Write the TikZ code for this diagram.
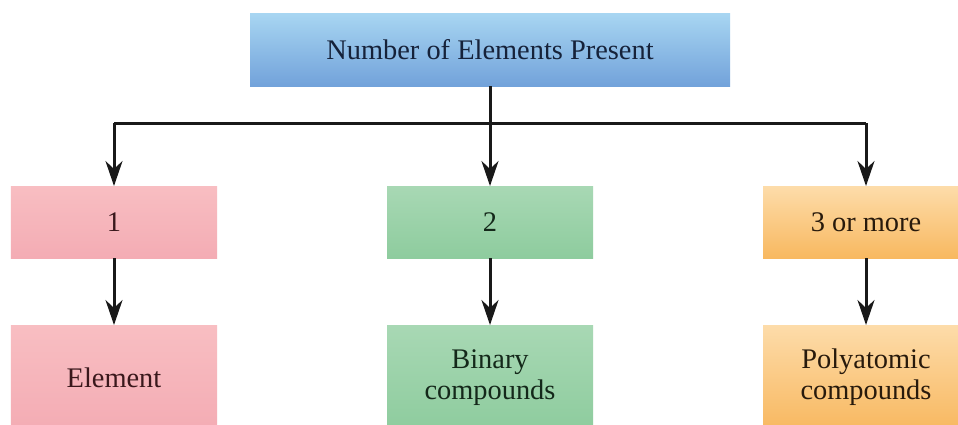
\documentclass[tikz,border=0pt]{standalone}
\usepackage{fontspec}
\setmainfont{Liberation Serif}
\usetikzlibrary{arrows.meta}

\definecolor{blueTop}{RGB}{168,214,242}
\definecolor{blueBot}{RGB}{114,162,218}
\definecolor{pinkTop}{RGB}{248,190,194}
\definecolor{pinkBot}{RGB}{244,172,180}
\definecolor{greenTop}{RGB}{168,216,180}
\definecolor{greenBot}{RGB}{142,204,158}
\definecolor{orangeTop}{RGB}{253,220,170}
\definecolor{orangeBot}{RGB}{248,184,96}
\definecolor{inkBlue}{RGB}{22,34,58}
\definecolor{inkRed}{RGB}{58,24,28}
\definecolor{inkGreen}{RGB}{20,40,26}
\definecolor{inkOrange}{RGB}{40,26,12}

\tikzset{
  box/.style={rectangle, inner sep=0pt, outer sep=0pt, align=center,
    font=\fontsize{28.5}{31}\selectfont},
  headbox/.style={box, minimum width=480bp, minimum height=73bp,
    top color=blueTop, bottom color=blueBot, text=inkBlue},
  pinkbox/.style={box, minimum width=206bp, top color=pinkTop, bottom color=pinkBot, text=inkRed},
  greenbox/.style={box, minimum width=206bp, top color=greenTop, bottom color=greenBot, text=inkGreen},
  orangebox/.style={box, minimum width=206bp, top color=orangeTop, bottom color=orangeBot, text=inkOrange},
  rowA/.style={minimum height=72bp},
  rowB/.style={minimum height=105bp},
  link/.style={line width=3bp, draw=black!90},
  arrow/.style={link, -{Stealth[length=25bp, width=17bp, inset=8bp]}},
}

\begin{document}
\begin{tikzpicture}[x=1bp, y=-1bp]
  \useasboundingbox (0,0) rectangle (958,424);
  \clip (0,0) rectangle (958,424);
  \fill[white] (0,0) rectangle (958,424);

  % header
  \node[headbox] (top) at (490,49.5) {Number of Elements Present};

  % counts
  \node[pinkbox, rowA]   (one)   at (114,222) {1};
  \node[greenbox, rowA]  (two)   at (490,222) {2};
  \node[orangebox, rowA] (three) at (866,222) {3 or more};

  % kinds of substance
  \node[pinkbox, rowB]   (elem) at (114,377.5) {Element};
  \node[greenbox, rowB]  (bin)  at (490,377.5) {Binary\\compounds};
  \node[orangebox, rowB] (poly) at (866,377.5) {Polyatomic\\compounds};

  % branching connectors
  \coordinate (junc) at (490,123);
  \draw[link] (one.north |- junc) -- (three.north |- junc);
  \draw[arrow] (top.south) -- (two.north);
  \draw[arrow] (one.north |- junc) -- (one.north);
  \draw[arrow] (three.north |- junc) -- (three.north);

  % second-level arrows
  \draw[arrow] (one.south) -- (elem.north);
  \draw[arrow] (two.south) -- (bin.north);
  \draw[arrow] (three.south) -- (poly.north);
\end{tikzpicture}
\end{document}
